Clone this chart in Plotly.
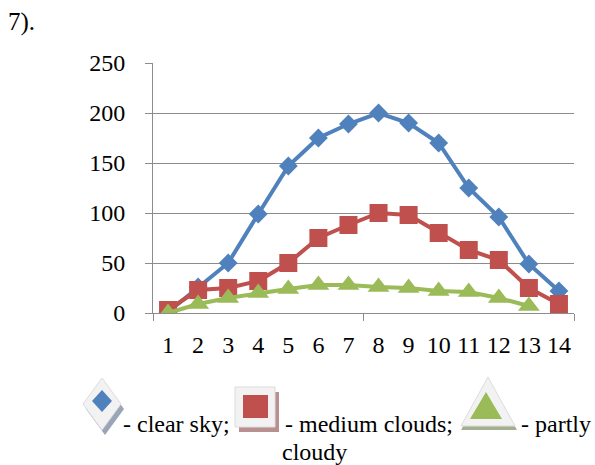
import plotly.graph_objects as go

hours = list(range(1, 15))
clear_sky = [1, 26, 50, 99, 147, 175, 189, 200, 190, 170, 125, 96, 49, 22]
medium_clouds = [3, 23, 25, 32, 50, 75, 88, 100, 98, 80, 63, 53, 25, 9]
partly_cloudy = [0, 9, 15, 20, 24, 28, 28, 26, 25, 22, 21, 15, 7]
y_ticks = [0, 50, 100, 150, 200, 250]

W, H = 595, 465
L, R, T, B = 153, 21, 63, 152
PW, PH = W - L - R, H - T - B

BLUE, RED, GREEN = "#4F81BD", "#C0504D", "#9BBB59"
GRID = "#8C8C8C"
FONT = "Liberation Serif, Times New Roman, DejaVu Serif, serif"


def px(x):
    return (x - L) / PW


def py(y):
    return (H - B - y) / PH


fig = go.Figure()
fig.add_trace(go.Scatter(x=hours, y=clear_sky, mode="lines+markers",
                         line=dict(color=BLUE, width=4),
                         marker=dict(symbol="diamond", size=14.5, color=BLUE),
                         name="clear sky"))
fig.add_trace(go.Scatter(x=hours, y=medium_clouds, mode="lines+markers",
                         line=dict(color=RED, width=4),
                         marker=dict(symbol="square", size=18, color=RED),
                         name="medium clouds"))
fig.add_trace(go.Scatter(x=hours[:len(partly_cloudy)], y=partly_cloudy, mode="lines+markers",
                         line=dict(color=GREEN, width=4),
                         marker=dict(symbol="triangle-up", size=19, color=GREEN),
                         name="partly cloudy"))

shapes = []
# legend icons (decorative)
def path(pts):
    return "M " + " L ".join(f"{px(a):.5f},{py(b):.5f}" for a, b in pts) + " Z"

# diamond icon
shapes.append(dict(type="path", xref="paper", yref="paper", path=path([(105, 383), (124, 409), (105, 435), (86, 409)]),
                   fillcolor="#9AA5B8", line=dict(width=0), layer="above"))
shapes.append(dict(type="path", xref="paper", yref="paper", path=path([(102, 378), (121, 404), (102, 430), (83, 404)]),
                   fillcolor="#F2F2F2", line=dict(color="#DDDDDD", width=1), layer="above"))
shapes.append(dict(type="path", xref="paper", yref="paper", path=path([(102, 390), (112, 401), (102, 412), (92, 401)]),
                   fillcolor=BLUE, line=dict(width=0), layer="above"))
# square icon
shapes.append(dict(type="path", xref="paper", yref="paper", path=path([(239, 392), (279, 392), (279, 432), (239, 432)]),
                   fillcolor="#B89090", line=dict(width=0), layer="above"))
shapes.append(dict(type="path", xref="paper", yref="paper", path=path([(235, 387), (275, 387), (275, 427), (235, 427)]),
                   fillcolor="#F2F2F2", line=dict(color="#DDDDDD", width=1), layer="above"))
shapes.append(dict(type="path", xref="paper", yref="paper", path=path([(243, 395), (268, 395), (268, 418), (243, 418)]),
                   fillcolor=RED, line=dict(width=0), layer="above"))
# triangle icon
shapes.append(dict(type="path", xref="paper", yref="paper", path=path([(489, 381), (517, 430), (461, 430)]),
                   fillcolor="#A3B08F", line=dict(width=0), layer="above"))
shapes.append(dict(type="path", xref="paper", yref="paper", path=path([(488, 377), (515, 426), (461, 426)]),
                   fillcolor="#F2F2F2", line=dict(color="#DDDDDD", width=1), layer="above"))
shapes.append(dict(type="path", xref="paper", yref="paper", path=path([(486, 392), (502, 419), (470, 419)]),
                   fillcolor=GREEN, line=dict(width=0), layer="above"))

annotations = [
    dict(text="7).", x=px(6), y=py(22), xanchor="left", yanchor="middle", size=25),
    dict(text="- clear sky;", x=px(121), y=py(424), xanchor="left", yanchor="middle", size=24),
    dict(text="- medium clouds;", x=px(283), y=py(424), xanchor="left", yanchor="middle", size=24),
    dict(text="- partly", x=px(519), y=py(424), xanchor="left", yanchor="middle", size=24),
    dict(text="cloudy", x=px(280), y=py(452), xanchor="left", yanchor="middle", size=24),
]
for a in annotations:
    s = a.pop("size")
    a.update(xref="paper", yref="paper", showarrow=False,
             font=dict(family=FONT, size=s, color="black"))

fig.update_layout(
    width=W, height=H,
    margin=dict(l=L, r=R, t=T, b=B, pad=0),
    paper_bgcolor="white", plot_bgcolor="white",
    showlegend=False,
    shapes=shapes,
    annotations=annotations,
    font=dict(family=FONT, size=24, color="black"),
    xaxis=dict(range=[0.5, 14.5], tickvals=hours, ticktext=[str(h) for h in hours],
               ticks="", showgrid=False, zeroline=False,
               showline=True, linecolor=GRID, linewidth=1,
               ticklabelstandoff=10,
               tickfont=dict(family=FONT, size=24, color="black"),
               minor=dict(tickvals=[0.5, 7.5, 14.5], ticks="outside", ticklen=7,
                          tickcolor=GRID, tickwidth=1, showgrid=False)),
    yaxis=dict(range=[0, 250], tickvals=y_ticks, ticks="outside", ticklen=7,
               tickcolor=GRID, showgrid=True, gridcolor=GRID, gridwidth=1,
               zeroline=False, showline=True, linecolor=GRID, linewidth=1,
               ticklabelstandoff=15,
               tickfont=dict(family=FONT, size=24, color="black")),
)

fig.write_html("out.html", config={"displayModeBar": False},
               post_script="document.body.style.margin='0';")
